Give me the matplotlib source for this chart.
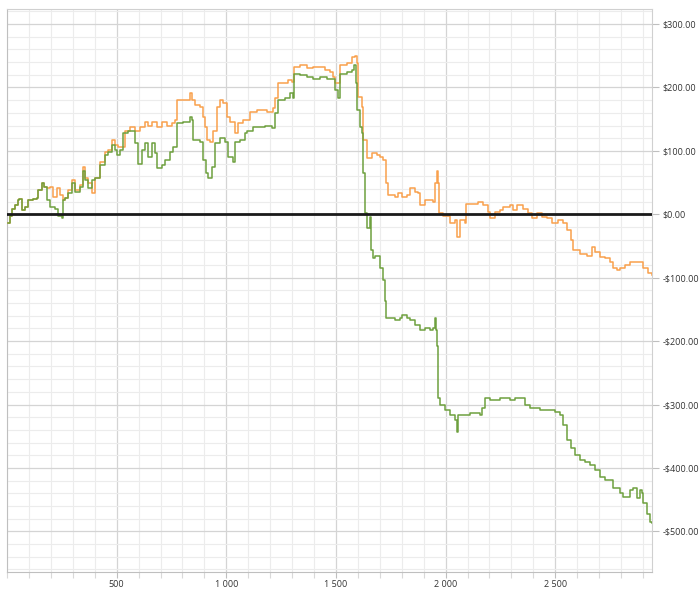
import matplotlib
matplotlib.use("Agg")
import matplotlib.pyplot as plt
from matplotlib.ticker import MultipleLocator, FuncFormatter

plt.rcParams["font.family"] = ["Open Sans", "DejaVu Sans"]

# ---- data ----
orange_x = [5, 14, 23, 36, 50, 55, 68, 82, 96, 119, 137, 141, 160, 169, 182, 196, 210, 228, 242, 255,
            264, 278, 296, 310, 333, 347, 356, 369, 388, 401, 424, 447, 461, 479, 492, 506, 515, 538,
            561, 584, 606, 629, 643, 661, 684, 707, 730, 752, 766, 775, 803, 834, 844, 857, 880, 894,
            903, 912, 926, 939, 958, 971, 985, 1003, 1017, 1040, 1053, 1076, 1108, 1140, 1163, 1186,
            1213, 1222, 1236, 1259, 1281, 1300, 1309, 1336, 1368, 1395, 1427, 1450, 1473, 1487, 1496,
            1509, 1518, 1550, 1573, 1587, 1596, 1601, 1619, 1623, 1642, 1664, 1687, 1701, 1715, 1728,
            1737, 1769, 1783, 1801, 1824, 1838, 1860, 1874, 1883, 1906, 1929, 1943, 1952, 1961, 1965,
            1970, 1988, 2020, 2043, 2052, 2066, 2088, 2093, 2125, 2148, 2170, 2193, 2202, 2225, 2248,
            2262, 2294, 2307, 2325, 2353, 2376, 2394, 2417, 2440, 2462, 2485, 2513, 2535, 2554, 2572,
            2581, 2613, 2645, 2668, 2681, 2704, 2727, 2750, 2763, 2782, 2795, 2818, 2841, 2886, 2900,
            2923, 2941]
orange_y = [-13, -2, 9, 14, 22, 24, 6, 11, 22, 24, 25, 38, 50, 43, 41, 43, 28, 41, 30, 22,
            25, 38, 54, 38, 46, 74, 57, 49, 33, 58, 82, 98, 101, 117, 109, 106, 106, 132,
            137, 132, 137, 145, 140, 145, 137, 145, 140, 144, 148, 180, 180, 191, 180, 172, 169, 153,
            137, 117, 114, 132, 169, 180, 175, 153, 145, 128, 144, 148, 161, 164, 164, 161,
            167, 183, 207, 207, 211, 208, 232, 235, 230, 232, 232, 227, 224, 216, 207,
            207, 235, 238, 248, 249, 238, 185, 169, 117, 88, 96, 93, 90, 85, 49,
            30, 27, 33, 27, 30, 41, 35, 33, 14, 22, 22, 19, 49, 69, 49,
            2, -2, -14, -9, -36, -9, -14, 17, 17, 19, 14, 3, -6, 3, 6,
            11, 14, 6, 14, 9, 2, -6, 2, -5, -6, -13, -9, -14, -25, -41,
            -57, -62, -65, -52, -60, -68, -69, -76, -85, -88, -85, -80, -76, -76, -85,
            -93, -95]

green_x = [5, 14, 23, 36, 50, 55, 68, 82, 96, 119, 137, 141, 160, 169, 182, 196, 219, 233, 251, 255,
           264, 278, 296, 310, 333, 347, 356, 369, 388, 401, 424, 447, 461, 479, 492, 502, 515, 529,
           552, 575, 584, 597, 616, 629, 643, 661, 675, 684, 707, 720, 743, 757, 775, 803, 834, 844,
           848, 880, 894, 907, 917, 935, 948, 971, 994, 1008, 1031, 1040, 1062, 1085, 1094, 1122,
           1154, 1176, 1208, 1222, 1236, 1268, 1290, 1304, 1309, 1336, 1368, 1395, 1427, 1459, 1482,
           1496, 1509, 1518, 1550, 1573, 1582, 1591, 1596, 1610, 1619, 1623, 1632, 1642, 1655, 1660,
           1669, 1678, 1701, 1715, 1724, 1728, 1746, 1769, 1792, 1801, 1824, 1838, 1860, 1883, 1906,
           1929, 1943, 1952, 1956, 1961, 1965, 1974, 1997, 2020, 2043, 2052, 2057, 2088, 2111, 2157,
           2166, 2180, 2202, 2248, 2294, 2316, 2339, 2362, 2385, 2430, 2499, 2522, 2535, 2554, 2572,
           2590, 2613, 2636, 2658, 2681, 2704, 2727, 2763, 2795, 2809, 2841, 2855, 2873, 2886, 2896,
           2900, 2918, 2932, 2941]
green_y = [-13, -2, 9, 14, 22, 24, 6, 11, 22, 24, 25, 38, 50, 43, 22, 11, 9, -2, -6, 22,
           25, 33, 49, 35, 43, 69, 54, 41, 54, 57, 77, 93, 98, 109, 101, 93, 101, 128,
           132, 132, 112, 80, 101, 112, 90, 112, 96, 73, 77, 85, 98, 106, 144, 145, 153, 148,
           117, 114, 85, 65, 57, 74, 112, 120, 114, 90, 82, 114, 117, 128, 132, 137,
           137, 140, 136, 159, 180, 183, 191, 183, 222, 219, 216, 214, 216, 214, 214,
           196, 183, 222, 224, 227, 235, 207, 164, 137, 128, 65, 2, -22, -5, -57,
           -69, -65, -84, -104, -136, -164, -164, -167, -164, -159, -164, -167, -175, -183, -180,
           -183, -180, -164, -183, -207, -290, -301, -309, -317, -325, -344, -317, -317, -314, -317,
           -306, -290, -293, -290, -293, -289, -290, -301, -306, -309, -312, -317, -333, -356, -369,
           -380, -388, -391, -396, -404, -415, -419, -431, -440, -446, -435, -432, -448, -435, -440,
           -456, -472, -486, -487]

x_tick_values = [500, 1000, 1500, 2000, 2500]
y_tick_values = [300, 200, 100, 0, -100, -200, -300, -400, -500]

ORANGE = "#F9A04C"
GREEN = "#6EA03E"

fig = plt.figure(figsize=(7.0, 5.89), dpi=100)
ax = fig.add_axes([0.01, 0.029, 0.9214, 0.956])

ax.plot(orange_x, orange_y, color=ORANGE, lw=1.1, drawstyle="steps-post", zorder=3)
ax.plot(green_x, green_y, color=GREEN, lw=1.1, drawstyle="steps-post", zorder=4)
ax.axhline(0, color="#1a1a1a", lw=2.0, zorder=5)

ax.set_xlim(0, 2941)
ax.set_ylim(-564, 324)

ax.xaxis.set_minor_locator(MultipleLocator(100))
ax.yaxis.set_minor_locator(MultipleLocator(20))
ax.set_xticks(x_tick_values)
ax.set_yticks(y_tick_values)

ax.xaxis.set_major_formatter(FuncFormatter(lambda v, p: f"{int(v):,}".replace(",", " ")))
def yfmt(v, p):
    s = f"${abs(v):,.2f}"
    return ("-" + s) if v < 0 else s
ax.yaxis.set_major_formatter(FuncFormatter(yfmt))

ax.yaxis.tick_right()
ax.grid(which="major", color="#d4d4d4", lw=0.9, zorder=0)
ax.grid(which="minor", color="#ececec", lw=0.8, zorder=0)
ax.set_axisbelow(True)

ax.tick_params(axis="y", which="major", length=5, width=0.8, color="#bfbfbf",
               labelsize=6.5, labelcolor="#333333", pad=2.5)
ax.tick_params(axis="y", which="minor", length=0)
ax.tick_params(axis="x", which="major", length=4, width=0.8, color="#bfbfbf",
               labelsize=6.5, labelcolor="#333333", pad=2)
ax.tick_params(axis="x", which="minor", length=4, width=0.8, color="#d9d9d9")

for s in ax.spines.values():
    s.set_color("#d0d0d0")
    s.set_linewidth(0.8)
ax.spines["left"].set_color("#bfbfbf")
ax.spines["bottom"].set_color("#bfbfbf")

fig.savefig("out.png", dpi=100, facecolor="white")
